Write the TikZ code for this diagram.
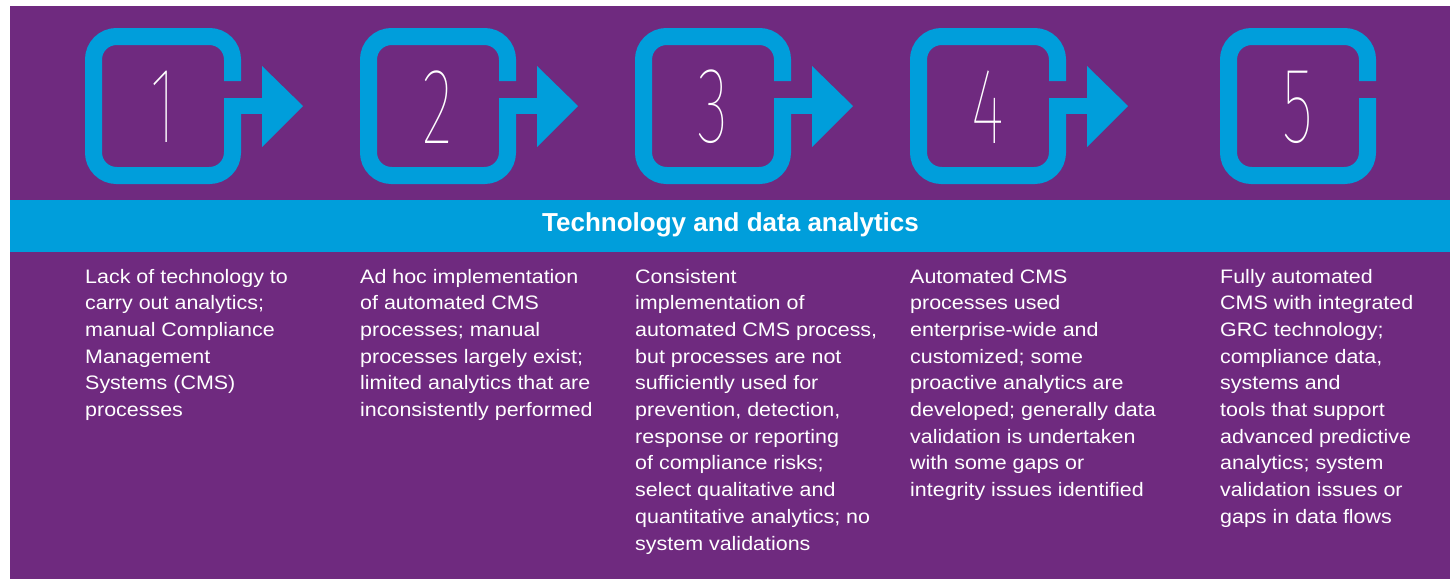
\documentclass[tikz,border=0pt]{standalone}
\usepackage{fontspec}
\setmainfont{Liberation Sans}
\newfontfamily\bodyfont{Liberation Sans}[FakeStretch=1.1]
\newfontfamily\digitfont{Fira Sans Thin}[FakeStretch=0.6]
\definecolor{kpurple}{HTML}{6F2A7F}
\definecolor{kblue}{HTML}{009EDB}
\newcommand{\stepframe}[1]{\draw[frameline] (#1+147.5,81) -- (#1+147.5,36.5) -- (#1+8.5,36.5) -- (#1+8.5,175.5) -- (#1+147.5,175.5) -- (#1+147.5,98);}
\newcommand{\steparrow}[1]{\fill[kblue] (#1+139,98) rectangle (#1+177,114);
\fill[kblue] (#1+177,66) -- (#1+218,106) -- (#1+177,147) -- cycle;}

\begin{document}
\begin{tikzpicture}[x=1pt,y=-1pt]
                        \tikzstyle{frameline}=[draw=kblue, line width=17pt, rounded corners=23pt]
                        \tikzstyle{stepdigit}=[text=white, inner sep=0pt, font=\digitfont\fontsize{108}{108}\selectfont]
                        \tikzstyle{stepdesc}=[anchor=north west, inner sep=0pt, align=left, text=white, font=\bodyfont\fontsize{19.5}{26.7}\selectfont]
                        \tikzstyle{heading}=[anchor=base, inner sep=0pt, text=white, font=\bfseries\fontsize{26}{30}\selectfont]
                        \useasboundingbox (0,0) rectangle (1452,579);
                        \fill[kpurple] (10,6) rectangle (1450,579);
                        \fill[kblue] (10,200) rectangle (1450,252);
                        \stepframe{85}
                        \steparrow{85}
                        \stepframe{360}
                        \steparrow{360}
                        \stepframe{635}
                        \steparrow{635}
                        \stepframe{910}
                        \steparrow{910}
                        \stepframe{1220}
                        \node[stepdigit] (d1) at (163,107) {1};
                        \node[stepdigit] (d2) at (438,107) {2};
                        \node[stepdigit] (d3) at (713,107) {3};
                        \node[stepdigit] (d4) at (988,107) {4};
                        \node[stepdigit] (d5) at (1298,107) {5};
                        \node[heading] (title) at (730.5,231) {Technology and data analytics};
                        \node[stepdesc] (desc1) at (85,268.7) {Lack of technology to\\carry out analytics;\\manual Compliance\\Management\\Systems (CMS)\\processes};
                        \node[stepdesc] (desc2) at (360,268.7) {Ad hoc implementation\\of automated CMS\\processes; manual\\processes largely exist;\\limited analytics that are\\inconsistently performed};
                        \node[stepdesc] (desc3) at (635,268.7) {Consistent\\implementation of\\automated CMS process,\\but processes are not\\sufficiently used for\\prevention, detection,\\response or reporting\\of compliance risks;\\select qualitative and\\quantitative analytics; no\\system validations};
                        \node[stepdesc] (desc4) at (910,268.7) {Automated CMS\\processes used\\enterprise-wide and\\customized; some\\proactive analytics are\\developed; generally data\\validation is undertaken\\with some gaps or\\integrity issues identified};
                        \node[stepdesc] (desc5) at (1220,268.7) {Fully automated\\CMS with integrated\\GRC technology;\\compliance data,\\systems and\\tools that support\\advanced predictive\\analytics; system\\validation issues or\\gaps in data flows};
                    \end{tikzpicture}
\end{document}
